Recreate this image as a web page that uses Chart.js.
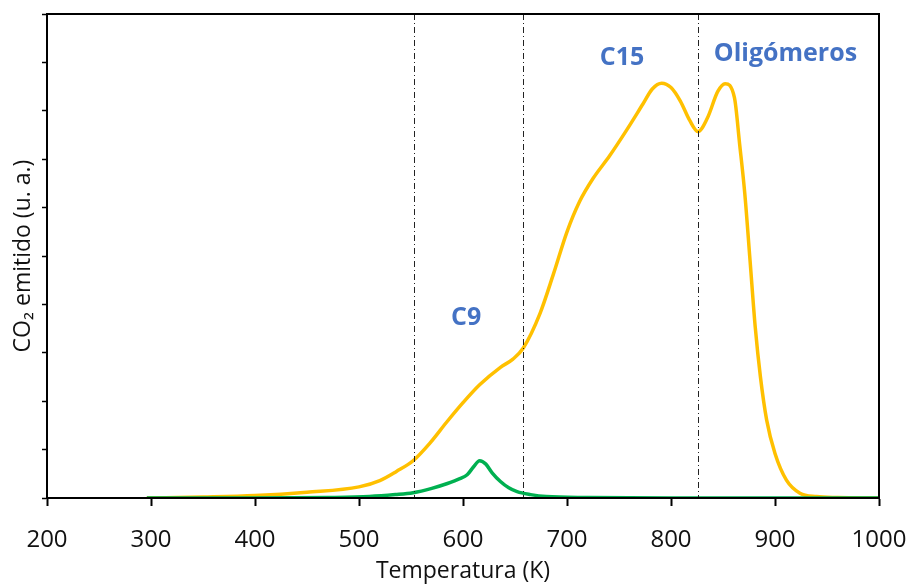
<!DOCTYPE html>
<html>
<head>
<meta charset="utf-8">
<script src="https://cdn.jsdelivr.net/npm/chart.js@4/dist/chart.umd.min.js"></script>
<style>
  body { margin: 0; background: #fff; }
</style>
</head>
<body>
<canvas id="tpoChart" width="910" height="585"></canvas>
<script>
// temperatura (K) y CO2 emitido (u. a.)
var tempYellow = [296, 350, 400, 450, 500, 520, 536, 552, 568, 584, 600, 616, 636, 648, 658, 674, 687, 700, 712, 725, 741, 757, 773, 782, 791, 800, 809, 818, 826, 835, 845, 852, 861, 866, 871, 876, 881, 886, 892, 900, 911, 924, 940, 960, 1000];
var co2Yellow = [0, 0.02, 0.05, 0.12, 0.23, 0.36, 0.55, 0.77, 1.13, 1.56, 1.97, 2.34, 2.7, 2.87, 3.1, 3.81, 4.63, 5.5, 6.12, 6.6, 7.07, 7.59, 8.14, 8.45, 8.57, 8.48, 8.2, 7.8, 7.57, 7.85, 8.4, 8.56, 8.27, 7.31, 6.28, 4.91, 3.53, 2.5, 1.61, 0.92, 0.37, 0.1, 0.03, 0.01, 0];

var tempGreen = [296, 400, 470, 510, 535, 552, 570, 585, 597, 604, 610, 616, 622, 628, 636, 644, 652, 665, 680, 720, 800, 1000];
var co2Green = [0, 0, 0.01, 0.03, 0.07, 0.11, 0.2, 0.3, 0.4, 0.48, 0.64, 0.77, 0.7, 0.52, 0.34, 0.21, 0.13, 0.07, 0.03, 0.01, 0, 0];

// límites entre fracciones
var cutTemps = [553, 658, 826];

var zoneNames = ["C9", "C15", "Oligómeros"];
var zoneTemps = [603, 753, 910];
var zoneLevels = [3.72, 9.1, 9.17];

var xTicks = [200, 300, 400, 500, 600, 700, 800, 900, 1000];

const toPoints = (xs, ys) => xs.map((x, i) => ({ x: x, y: ys[i] }));

const extras = {
  id: 'extras',
  afterDatasetsDraw(chart) {
    const ctx = chart.ctx;
    const a = chart.chartArea;
    const xs = chart.scales.x, ys = chart.scales.y;
    ctx.save();
    // líneas de corte
    ctx.strokeStyle = '#222';
    ctx.lineWidth = 1;
    ctx.setLineDash([6, 3, 1, 3]);
    cutTemps.forEach(t => {
      const px = Math.round(xs.getPixelForValue(t)) + 0.5;
      ctx.beginPath();
      ctx.moveTo(px, a.top);
      ctx.lineTo(px, a.bottom);
      ctx.stroke();
    });
    ctx.setLineDash([]);
    // marco
    ctx.strokeStyle = '#000';
    ctx.lineWidth = 2;
    ctx.strokeRect(a.left, a.top, a.right - a.left, a.bottom - a.top);
    // nombres de zonas
    ctx.fillStyle = '#4472C4';
    ctx.font = 'bold 25px "Open Sans", sans-serif';
    ctx.textAlign = 'center';
    ctx.textBaseline = 'middle';
    zoneNames.forEach((n, i) => {
      ctx.fillText(n, xs.getPixelForValue(zoneTemps[i]), ys.getPixelForValue(zoneLevels[i]));
    });
    ctx.restore();
  }
};

new Chart(document.getElementById('tpoChart').getContext('2d'), {
  type: 'line',
  data: {
    datasets: [{
      data: toPoints(tempGreen, co2Green),
      borderColor: '#00B050',
      borderWidth: 3.5,
      pointRadius: 0,
      fill: false,
      cubicInterpolationMode: 'monotone'
    }, {
      data: toPoints(tempYellow, co2Yellow),
      borderColor: '#FFC000',
      borderWidth: 3.5,
      pointRadius: 0,
      fill: false,
      cubicInterpolationMode: 'monotone'
    }]
  },
  options: {
    responsive: false,
    animation: false,
    layout: { padding: { top: 14, right: 31, left: 0, bottom: 0 } },
    plugins: { legend: { display: false }, tooltip: { enabled: false } },
    scales: {
      x: {
        type: 'linear',
        min: 200,
        max: 1000,
        afterBuildTicks: s => { s.ticks = xTicks.map(v => ({ value: v })); },
        afterFit: s => { s.height = 87; s.paddingLeft = 0; s.paddingRight = 0; },
        grid: { drawOnChartArea: false, color: '#000', tickLength: 8, tickWidth: 2 },
        border: { color: '#000', width: 2 },
        ticks: { color: '#111', font: { family: '"Open Sans", sans-serif', size: 24 }, padding: 20, maxRotation: 0, callback: v => String(v) },
        title: { display: true, text: 'Temperatura (K)', color: '#111', font: { family: '"Open Sans", sans-serif', size: 23 }, padding: { top: 0, bottom: 0 } }
      },
      y: {
        min: 0,
        max: 10,
        afterFit: s => { s.width = 47; },
        grid: { drawOnChartArea: false, color: '#000', tickLength: 5, tickWidth: 1.5 },
        border: { color: '#000', width: 2 },
        ticks: { stepSize: 1, callback: () => '' },
        title: { display: true, text: 'CO₂ emitido (u. a.)', color: '#111', font: { family: '"Open Sans", sans-serif', size: 23 }, padding: { top: 10, bottom: 0 } }
      }
    }
  },
  plugins: [extras]
});
</script>
</body>
</html>
